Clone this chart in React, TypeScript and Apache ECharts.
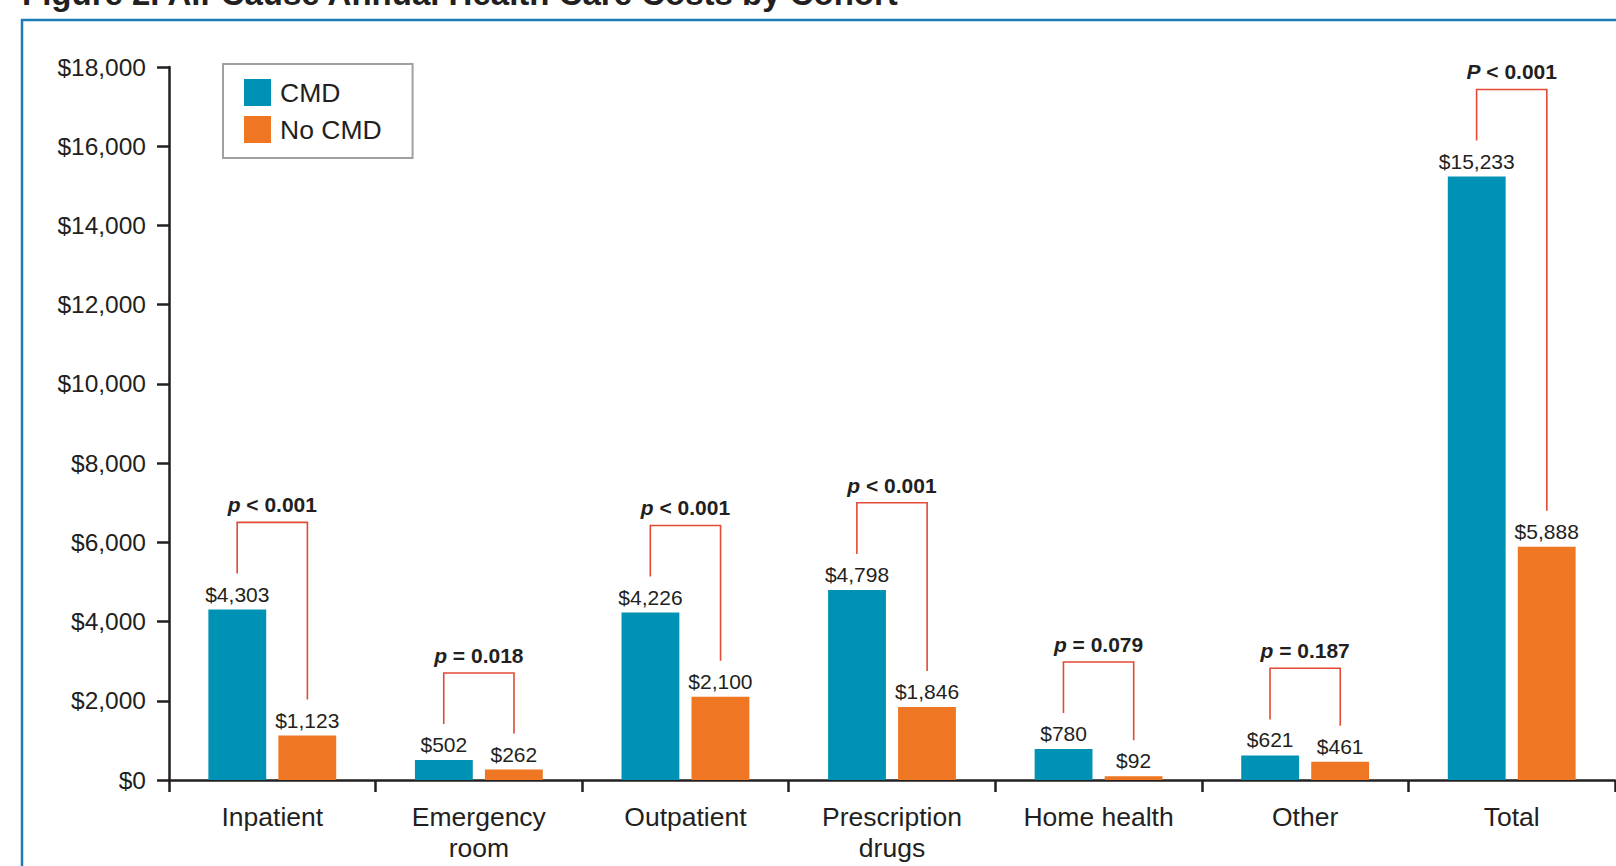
import React, { useEffect, useRef } from "react";
import * as echarts from "echarts";

const categories = ["Inpatient", "Emergency\nroom", "Outpatient", "Prescription\ndrugs", "Home health", "Other", "Total"];
const cmdValues = [4303, 502, 4226, 4798, 780, 621, 15233];
const noCmdValues = [1123, 262, 2100, 1846, 92, 461, 5888];
const pPrefix = ["p", "p", "p", "p", "p", "p", "P"];
const pText = ["< 0.001", "= 0.018", "< 0.001", "< 0.001", "= 0.079", "= 0.187", "< 0.001"];
const yTicks = { min: 0, max: 18000, interval: 2000 };

const FONT = "'Liberation Sans', Arial, Helvetica, sans-serif";
const TEXT = "#231f20";
const TEAL = "#0092b5";
const ORANGE = "#ef7622";
const RED = "#e24a36";
const FRAME = "#1f7bb6";

const fmt = (v: number) => "$" + v.toLocaleString("en-US");

export default function App() {
  const ref = useRef<HTMLDivElement>(null);
  useEffect(() => {
    document.body.style.margin = "0";
    const chart = echarts.init(ref.current!, null, { renderer: "svg" });
    const bracketData = categories.map((_, i) => [i, cmdValues[i], noCmdValues[i]]);
    chart.setOption({
      animation: false,
      textStyle: { fontFamily: FONT, color: TEXT },
      graphic: [
        {
          type: "rect",
          shape: { x: 22, y: 20, width: 1800, height: 1000 },
          style: { fill: "none", stroke: FRAME, lineWidth: 2.5 },
          silent: true,
        },
        {
          type: "text",
          x: 22,
          y: 10,
          style: {
            text: "Figure 2. All-Cause Annual Health Care Costs by Cohort",
            font: `bold 33px ${FONT}`,
            fill: TEXT,
            verticalAlign: "bottom",
          },
        },
      ],
      legend: {
        orient: "vertical",
        left: 223,
        top: 64,
        padding: [15, 31, 15, 21],
        itemWidth: 27,
        itemHeight: 27,
        itemGap: 10,
        borderColor: "#a0a0a0",
        borderWidth: 2,
        icon: "rect",
        textStyle: { fontSize: 26.5, color: TEXT, fontFamily: FONT, padding: [0, 0, 0, 4] },
        data: ["CMD", "No CMD"],
      },
      grid: { left: 169, right: 1, top: 67, bottom: 86 },
      xAxis: {
        type: "category",
        data: categories,
        axisLine: { lineStyle: { color: TEXT, width: 2.5 } },
        axisTick: { show: true, length: 12, interval: 0, lineStyle: { color: TEXT, width: 2.5 } },
        axisLabel: { fontSize: 26.5, color: TEXT, margin: 21, lineHeight: 31, interval: 0, fontFamily: FONT },
      },
      yAxis: {
        type: "value",
        min: yTicks.min,
        max: yTicks.max,
        interval: yTicks.interval,
        axisLine: { show: true, lineStyle: { color: TEXT, width: 2.5 } },
        axisTick: { show: true, length: 12, lineStyle: { color: TEXT, width: 2.5 } },
        splitLine: { show: false },
        axisLabel: { fontSize: 24.5, color: TEXT, margin: 23, formatter: (v: number) => fmt(v), fontFamily: FONT },
      },
      series: [
        {
          name: "CMD",
          type: "bar",
          data: cmdValues,
          barWidth: "28%",
          barGap: "21%",
          itemStyle: { color: TEAL },
          label: { show: true, position: "top", distance: 5, fontSize: 21, color: TEXT, formatter: (p: any) => fmt(p.value), fontFamily: FONT },
        },
        {
          name: "No CMD",
          type: "bar",
          data: noCmdValues,
          barWidth: "28%",
          barGap: "21%",
          itemStyle: { color: ORANGE },
          label: { show: true, position: "top", distance: 5, fontSize: 21, color: TEXT, formatter: (p: any) => fmt(p.value), fontFamily: FONT },
        },
        {
          type: "custom",
          data: bracketData,
          silent: true,
          z: 5,
          renderItem: (params: any, api: any) => {
            const idx = api.value(0);
            const a = api.value(1);
            const b = api.value(2);
            const catW = api.size([1, 0])[0];
            const off = catW * 0.17;
            const center = api.coord([idx, 0])[0];
            const xl = center - off;
            const xr = center + off;
            const yA = api.coord([idx, a])[1] - 36;
            const yB = api.coord([idx, b])[1] - 36;
            const yTop = api.coord([idx, Math.max(a, b) + 2200])[1];
            return {
              type: "group",
              children: [
                {
                  type: "polyline",
                  shape: { points: [[xl, yA], [xl, yTop], [xr, yTop], [xr, yB]] },
                  style: { stroke: RED, lineWidth: 1.6, fill: "none" },
                },
                {
                  type: "text",
                  x: center,
                  y: yTop - 7,
                  style: {
                    text: `{i|${pPrefix[idx]}}{b| ${pText[idx]}}`,
                    align: "center",
                    verticalAlign: "bottom",
                    rich: {
                      i: { fontSize: 21, fontWeight: "bold", fontStyle: "italic", fontFamily: FONT, fill: TEXT, color: TEXT },
                      b: { fontSize: 21, fontWeight: "bold", fontFamily: FONT, fill: TEXT, color: TEXT },
                    },
                  },
                },
              ],
            };
          },
        },
      ],
    });
    return () => chart.dispose();
  }, []);
  return <div ref={ref} style={{ position: "absolute", left: 0, top: 0, width: 1616, height: 866 }} />;
}
